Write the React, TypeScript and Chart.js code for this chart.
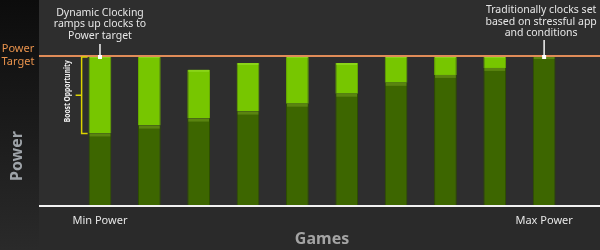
import React, { useEffect, useRef } from 'react';
import { Chart, registerables } from 'chart.js';

Chart.register(...registerables);

// Ten games, ordered from lowest to highest power draw at base clocks
const games = ['Min Power', '', '', '', '', '', '', '', '', 'Max Power'];
// Power at base clocks (% of power target)
const basePower = [48, 53.3, 58, 62.7, 68, 74.7, 82, 87.3, 92, 100];
// Extra power used once clocks ramp up (% of power target)
const boostPower = [52, 46.7, 32.7, 32.6, 32, 20.6, 18, 12.7, 8, 0];
const powerTarget = 100;

const FONT = '"Noto Sans", "DejaVu Sans", sans-serif';
const PANEL_LEFT = 39;

const leftNote = ['Dynamic Clocking', 'ramps up clocks to', 'Power target'];
const rightNote = ['Traditionally clocks set', 'based on stressful app', 'and conditions'];

const decor = {
  id: 'decor',
  beforeDraw(chart: any) {
    const { ctx, width, height } = chart;
    const base = chart.scales.y.getPixelForValue(0);
    ctx.save();
    ctx.fillStyle = '#2a2a2a';
    ctx.fillRect(0, 0, width, height);
    ctx.fillStyle = '#2e2e2e';
    ctx.fillRect(PANEL_LEFT, 0, width - PANEL_LEFT, base);
    const g = ctx.createLinearGradient(0, 0, 0, height);
    g.addColorStop(0, '#0c0c0c');
    g.addColorStop(1, '#2a2a2a');
    ctx.fillStyle = g;
    ctx.fillRect(0, 0, PANEL_LEFT, height);
    ctx.restore();
  },
  afterDatasetsDraw(chart: any) {
    const { ctx, width } = chart;
    const y = chart.scales.y;
    const baseMeta = chart.getDatasetMeta(0);
    const boostMeta = chart.getDatasetMeta(1);
    ctx.save();

    // shading bands on the bar segments
    baseMeta.data.forEach((el: any) => {
      const w = el.width;
      ctx.fillStyle = '#5a8410';
      ctx.fillRect(el.x - w / 2 + 1, el.y, w - 2, 3);
    });
    boostMeta.data.forEach((el: any) => {
      if (Math.abs(el.base - el.y) < 1) return;
      const w = el.width;
      ctx.fillStyle = '#8ad418';
      ctx.fillRect(el.x - w / 2 + 1, el.y, w - 2, 2);
    });

    // power target line
    const yt = y.getPixelForValue(powerTarget);
    ctx.strokeStyle = '#e08c58';
    ctx.lineWidth = 2;
    ctx.beginPath();
    ctx.moveTo(PANEL_LEFT, yt);
    ctx.lineTo(width, yt);
    ctx.stroke();

    // baseline
    const y0 = y.getPixelForValue(0);
    ctx.strokeStyle = '#f2f2f2';
    ctx.beginPath();
    ctx.moveTo(PANEL_LEFT, y0 + 1);
    ctx.lineTo(width, y0 + 1);
    ctx.stroke();

    // "Power Target" label
    ctx.fillStyle = '#e8924c';
    ctx.font = `11px ${FONT}`;
    ctx.textAlign = 'center';
    ctx.textBaseline = 'middle';
    ctx.fillText('Power', 18, yt - 7);
    ctx.fillText('Target', 18, yt + 6);

    // callouts with pointers
    const first = baseMeta.data[0];
    const last = baseMeta.data[baseMeta.data.length - 1];
    ctx.fillStyle = '#e6e6e6';
    ctx.font = `10.5px ${FONT}`;
    leftNote.forEach((t, i) => ctx.fillText(t, first.x, 13 + i * 11.5));
    rightNote.forEach((t, i) => ctx.fillText(t, last.x - 3, 10 + i * 11.7));
    ctx.strokeStyle = '#f4f4f4';
    ctx.lineWidth = 1.5;
    ctx.beginPath();
    ctx.moveTo(first.x, 44);
    ctx.lineTo(first.x, yt);
    ctx.moveTo(last.x, 40);
    ctx.lineTo(last.x, yt);
    ctx.stroke();
    ctx.fillStyle = '#ffffff';
    ctx.fillRect(first.x - 2, yt - 1, 4, 4);
    ctx.fillRect(last.x - 2, yt - 1, 4, 4);

    // bracket on the first game's boost segment
    const b = boostMeta.data[0];
    const bx = b.x - b.width / 2 - 7;
    const top = b.y + 1;
    const bottom = b.base;
    const mid = (top + bottom) / 2;
    ctx.strokeStyle = '#dcd400';
    ctx.lineWidth = 1.5;
    ctx.beginPath();
    ctx.moveTo(bx + 6, top);
    ctx.lineTo(bx, top);
    ctx.lineTo(bx, bottom);
    ctx.lineTo(bx + 6, bottom);
    ctx.moveTo(bx, mid);
    ctx.lineTo(bx - 6, mid);
    ctx.stroke();

    // "Boost Opportunity" (vertical)
    ctx.save();
    ctx.translate(bx - 14, mid - 4);
    ctx.rotate(-Math.PI / 2);
    ctx.font = `bold 8px ${FONT}`;
    const label = 'Boost Opportunity';
    const tw = ctx.measureText(label).width;
    ctx.scale(Math.min(1, 62 / tw), 1);
    ctx.fillStyle = '#f0f0f0';
    ctx.fillText(label, 0, 0);
    ctx.restore();

    // vertical axis caption
    ctx.save();
    ctx.translate(17, 156);
    ctx.rotate(-Math.PI / 2);
    ctx.font = `bold 16px ${FONT}`;
    ctx.fillStyle = '#9ea3a8';
    ctx.fillText('Power', 0, 0);
    ctx.restore();

    ctx.restore();
  },
};

export default function App() {
  const ref = useRef<HTMLCanvasElement | null>(null);

  useEffect(() => {
    document.body.style.margin = '0';
    if (!ref.current) return;
    const chart = new Chart(ref.current, {
      type: 'bar',
      data: {
        labels: games,
        datasets: [
          {
            label: 'Base clocks',
            data: basePower,
            backgroundColor: '#3d6600',
            borderColor: '#2e4e00',
            borderWidth: { left: 1, right: 1, top: 0, bottom: 0 },
            borderSkipped: false,
          },
          {
            label: 'Boost',
            data: boostPower,
            backgroundColor: '#77c600',
            borderColor: '#66a900',
            borderWidth: { left: 1, right: 1, top: 0, bottom: 0 },
            borderSkipped: false,
          },
        ],
      },
      options: {
        responsive: false,
        animation: false,
        layout: { padding: { left: 75.3, right: 31.2, top: 56, bottom: 0 } },
        datasets: { bar: { categoryPercentage: 1, barPercentage: 0.46 } },
        plugins: { legend: { display: false }, tooltip: { enabled: false } },
        scales: {
          x: {
            stacked: true,
            grid: { display: false, drawTicks: false, tickLength: 0 },
            border: { display: false },
            afterFit: (scale: any) => {
              scale.height = 45;
            },
            ticks: {
              color: '#e6e6e6',
              font: { family: FONT, size: 11 },
              padding: 9,
              maxRotation: 0,
              autoSkip: false,
            },
            title: {
              display: true,
              text: 'Games',
              color: '#a4a4a4',
              font: { family: FONT, size: 16, weight: 'bold' },
              padding: { top: 3, bottom: 1 },
            },
          },
          y: {
            stacked: true,
            display: false,
            min: 0,
            max: powerTarget,
          },
        },
      },
      plugins: [decor],
    });
    return () => chart.destroy();
  }, []);

  return (
    <div style={{ width: 600, height: 250 }}>
      <canvas ref={ref} width={600} height={250} />
    </div>
  );
}
